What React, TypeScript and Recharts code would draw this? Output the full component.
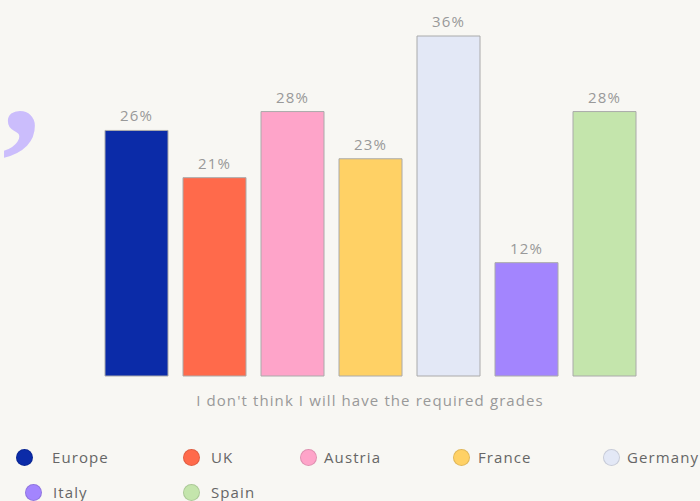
import React from 'react';
import { BarChart, Bar, XAxis, YAxis, LabelList } from 'recharts';

const category = "I don't think I will have the required grades";
const seriesNames = ['Europe', 'UK', 'Austria', 'France', 'Germany', 'Italy', 'Spain'];
const seriesValues = [26, 21, 28, 23, 36, 12, 28];
const seriesColors = ['#0b2ba8', '#ff6a4b', '#fea4c9', '#ffd165', '#e3e8f6', '#a385fe', '#c4e5ac'];

const data = [
  seriesNames.reduce((row: any, name, i) => {
    row[name] = seriesValues[i];
    return row;
  }, { category }),
];

const legendLayout = [
  { left: 16, top: 447, gap: 19 },
  { left: 183, top: 447, gap: 11 },
  { left: 300, top: 447, gap: 7 },
  { left: 453, top: 447, gap: 8 },
  { left: 603, top: 447, gap: 7 },
  { left: 25, top: 482, gap: 11 },
  { left: 183, top: 482, gap: 11 },
];

const BG = '#f8f7f3';
const FONT = '"Open Sans", sans-serif';

export default function App() {
  return (
    <div style={{ position: 'absolute', left: 0, top: 0, width: 700, height: 501, background: BG, overflow: 'hidden', fontFamily: FONT }}>
      <span style={{ position: 'absolute', left: 2, top: 5, fontFamily: '"Liberation Serif", serif', fontWeight: 700, fontSize: 155, lineHeight: 1, color: '#cbbdfc' }}>,</span>
      <BarChart width={700} height={420} data={data} margin={{ top: 36, right: 58, left: 98, bottom: 14 }} barSize={63} barGap={15}>
        <XAxis dataKey="category" axisLine={false} tickLine={false} tickMargin={13} height={30} tick={{ fill: '#999', fontSize: 15, fontWeight: 500, letterSpacing: 1.1, fontFamily: FONT }} />
        <YAxis hide domain={[0, 36]} />
        {seriesNames.map((name, i) => (
          <Bar key={name} dataKey={name} fill={seriesColors[i]} stroke="#aaa" strokeWidth={1} isAnimationActive={false}>
            <LabelList dataKey={name} position="top" offset={9} formatter={(v: any) => `${v}%`} style={{ fill: '#999', fontSize: 15, fontWeight: 500, letterSpacing: 1.1, fontFamily: FONT }} />
          </Bar>
        ))}
      </BarChart>
      {seriesNames.map((name, i) => (
        <div key={name} style={{ position: 'absolute', left: legendLayout[i].left, top: legendLayout[i].top, display: 'flex', alignItems: 'center', height: 20, whiteSpace: 'nowrap' }}>
          <span style={{ display: 'inline-block', width: 17, height: 17, borderRadius: '50%', background: seriesColors[i], border: '1px solid rgba(0,0,0,0.12)', boxSizing: 'border-box', flexShrink: 0 }} />
          <span style={{ marginLeft: legendLayout[i].gap, fontSize: 15, fontWeight: 500, letterSpacing: 1.1, color: '#666' }}>{name}</span>
        </div>
      ))}
    </div>
  );
}
